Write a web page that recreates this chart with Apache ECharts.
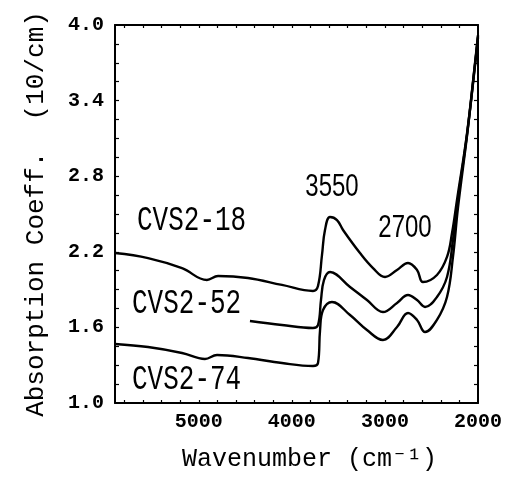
<!DOCTYPE html>
<html><head><meta charset="utf-8">
<script src="https://cdn.jsdelivr.net/npm/echarts@6/dist/echarts.min.js"></script>
<style>html,body{margin:0;padding:0;background:#fff}#c{width:506px;height:485px}</style>
</head><body><div id="c"></div>
<script>
// ---- data ----
const seriesNames = ['CVS2-18', 'CVS2-52', 'CVS2-74'];
const xTickLabels = [5000, 4000, 3000, 2000];
const xMinorTicks = [5800, 5600, 5400, 5200, 5000, 4800, 4600, 4400, 4200, 4000, 3800, 3600, 3400, 3200, 3000, 2800, 2600, 2400, 2200];
const yTickLabels = [1.0, 1.6, 2.2, 2.8, 3.4, 4.0];
const yMinorTicks = [1.15, 1.3, 1.45, 1.6, 1.75, 1.9, 2.05, 2.2, 2.35, 2.5, 2.65, 2.8, 2.95, 3.1, 3.25, 3.4, 3.55, 3.7, 3.85];

const wn18  = [5900, 5545, 5180, 4912, 4793, 4471, 4106, 3773, 3719, 3676, 3644, 3590, 3515, 3450, 3268, 3128, 2999, 2870, 2752, 2655, 2591, 2441, 2333, 2279, 2226, 2118, 2032, 2000];
const val18 = [2.19, 2.15, 2.07, 1.976, 2.008, 1.992, 1.937, 1.889, 1.929, 2.175, 2.373, 2.476, 2.452, 2.373, 2.19, 2.071, 2.0, 2.056, 2.111, 2.056, 1.96, 2.016, 2.159, 2.349, 2.61, 3.14, 3.70, 3.92];

const wn52  = [4450, 4106, 3773, 3719, 3687, 3655, 3590, 3375, 3193, 3021, 2870, 2752, 2655, 2569, 2441, 2333, 2269, 2215, 2118, 2032, 2000];
const val52 = [1.651, 1.619, 1.595, 1.619, 1.817, 1.976, 2.04, 1.921, 1.817, 1.722, 1.794, 1.857, 1.817, 1.762, 1.841, 2.0, 2.294, 2.62, 3.13, 3.69, 3.91];

const wn74  = [5900, 5545, 5180, 4933, 4804, 4471, 4106, 3773, 3719, 3697, 3665, 3569, 3375, 3193, 3021, 2870, 2752, 2655, 2569, 2441, 2333, 2269, 2215, 2118, 2032, 2000];
const val74 = [1.468, 1.444, 1.397, 1.349, 1.381, 1.357, 1.317, 1.294, 1.317, 1.579, 1.738, 1.802, 1.698, 1.579, 1.5, 1.603, 1.714, 1.659, 1.563, 1.659, 1.841, 2.159, 2.55, 3.12, 3.68, 3.9];

const peakLabels = ['3550', '2700'];

const zip = (xs, ys) => xs.map((x, i) => [x, ys[i]]);
const curves = [zip(wn18, val18), zip(wn52, val52), zip(wn74, val74)];

const mono = 'Liberation Mono, Courier New, monospace';
const chart = echarts.init(document.getElementById('c'), null, {renderer: 'canvas'});

const xBase = {
  type: 'value', min: 2000, max: 5900, inverse: true,
  splitLine: {show: false},
  axisLine: {show: true, onZero: false, lineStyle: {color: '#000', width: 2}},
  axisTick: {show: true, inside: true, length: 3, customValues: xMinorTicks, lineStyle: {color: '#000', width: 1.2}}
};
const yBase = {
  type: 'value', min: 1.0, max: 4.0,
  splitLine: {show: false},
  axisLine: {show: true, onZero: false, lineStyle: {color: '#000', width: 2}},
  axisTick: {show: true, inside: true, length: 4, customValues: yMinorTicks, lineStyle: {color: '#000', width: 1.2}}
};

chart.setOption({
  animation: false,
  backgroundColor: '#fff',
  grid: {left: 115, right: 28, top: 25, bottom: 82, containLabel: false},
  xAxis: [
    Object.assign({}, xBase, {
      position: 'bottom',
      name: 'Wavenumber (cm\u207B\u00B9)', nameLocation: 'middle', nameGap: 44,
      nameTextStyle: {fontFamily: mono, fontSize: 25, color: '#000', padding: [0, 0, 0, 26]},
      axisLabel: {show: true, customValues: xTickLabels, margin: 9, fontFamily: mono, fontSize: 20, fontWeight: 'bold', color: '#000', formatter: v => String(v)}
    }),
    Object.assign({}, xBase, {position: 'top', axisLabel: {show: false}})
  ],
  yAxis: [
    Object.assign({}, yBase, {
      position: 'left',
      name: 'Absorption Coeff.  (10/cm)', nameLocation: 'middle', nameRotate: 90, nameGap: 66,
      nameTextStyle: {fontFamily: mono, fontSize: 26, color: '#000'},
      axisLabel: {show: true, customValues: yTickLabels, margin: 11, fontFamily: mono, fontSize: 20, fontWeight: 'bold', color: '#000', formatter: v => v.toFixed(1)}
    }),
    Object.assign({}, yBase, {position: 'right', axisLabel: {show: false}})
  ],
  series: curves.map((d, i) => ({
    name: seriesNames[i], type: 'line', xAxisIndex: 0, yAxisIndex: 0,
    data: d, showSymbol: false, smooth: 0.4,
    lineStyle: {color: '#000', width: 2.4}, silent: true
  })),
  graphic: [
    {type: 'text', x: 137, y: 221, scaleY: 1.35, style: {text: seriesNames[0], font: '26px ' + mono, fill: '#000', textAlign: 'left', textVerticalAlign: 'middle'}},
    {type: 'text', x: 132, y: 304, scaleY: 1.35, style: {text: seriesNames[1], font: '26px ' + mono, fill: '#000', textAlign: 'left', textVerticalAlign: 'middle'}},
    {type: 'text', x: 132, y: 380, scaleY: 1.35, style: {text: seriesNames[2], font: '26px ' + mono, fill: '#000', textAlign: 'left', textVerticalAlign: 'middle'}},
    {type: 'text', x: 332, y: 187, scaleY: 1.3, style: {text: peakLabels[0], font: '24px Liberation Sans Narrow, Liberation Sans, sans-serif', fill: '#000', textAlign: 'center', textVerticalAlign: 'middle'}},
    {type: 'text', x: 405, y: 228, scaleY: 1.3, style: {text: peakLabels[1], font: '24px Liberation Sans Narrow, Liberation Sans, sans-serif', fill: '#000', textAlign: 'center', textVerticalAlign: 'middle'}}
  ]
});
</script>
</body></html>
